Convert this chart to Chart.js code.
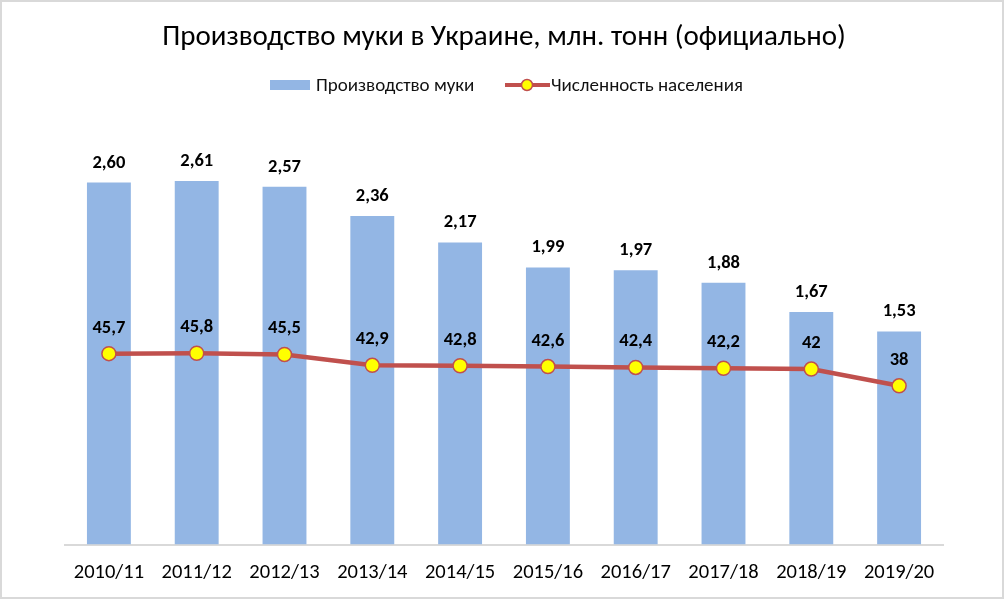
<!DOCTYPE html>
<html>
<head>
<meta charset="utf-8">
<script src="https://cdn.jsdelivr.net/npm/chart.js@4/dist/chart.umd.min.js"></script>
<style>
  html,body{margin:0;padding:0;background:#fff;}
  #wrap{position:relative;width:1004px;height:599px;box-sizing:border-box;border:2px solid #d9d9d9;}
</style>
</head>
<body>
<div id="wrap"><canvas id="c"></canvas></div>
<script>
// данные
const seasons = ['2010/11','2011/12','2012/13','2013/14','2014/15','2015/16','2016/17','2017/18','2018/19','2019/20'];
const flour = [2.60, 2.61, 2.57, 2.36, 2.17, 1.99, 1.97, 1.88, 1.67, 1.53];
const population = [45.7, 45.8, 45.5, 42.9, 42.8, 42.6, 42.4, 42.2, 42, 38];

const FONT = "Carlito, Calibri, Lato, 'Open Sans', sans-serif";
const BAR = '#93b6e4';
const RED = '#c0504d';

const fmt2 = v => v.toFixed(2).replace('.', ',');
const fmt1 = v => String(v).replace('.', ',');

// подписи значений
const valueLabels = {
  id: 'valueLabels',
  afterDatasetsDraw(chart) {
    const ctx = chart.ctx;
    ctx.save();
    ctx.font = 'bold 18.5px ' + FONT;
    ctx.fillStyle = '#000';
    ctx.textAlign = 'center';
    ctx.textBaseline = 'alphabetic';
    chart.data.datasets.forEach((ds, i) => {
      const meta = chart.getDatasetMeta(i);
      meta.data.forEach((el, j) => {
        if (ds.type === 'bar') ctx.fillText(fmt2(ds.data[j]), el.x, el.y - 15);
        else ctx.fillText(fmt1(ds.data[j]), el.x, el.y - 21);
      });
    });
    ctx.restore();
  }
};

// легенда
const legendPlugin = {
  id: 'customLegend',
  afterDraw(chart) {
    const ctx = chart.ctx;
    ctx.save();
    const y = 83;
    ctx.font = '19px ' + FONT;
    ctx.textBaseline = 'middle';
    ctx.fillStyle = BAR;
    ctx.fillRect(268, y - 5, 40, 10);
    ctx.fillStyle = '#111';
    ctx.fillText('Производство муки', 314, y + 1);
    ctx.strokeStyle = RED; ctx.lineWidth = 4;
    ctx.beginPath(); ctx.moveTo(503, y); ctx.lineTo(548, y); ctx.stroke();
    ctx.beginPath(); ctx.arc(525, y, 5.5, 0, Math.PI * 2);
    ctx.fillStyle = '#ffff00'; ctx.fill();
    ctx.lineWidth = 1.5; ctx.stroke();
    ctx.fillStyle = '#111';
    ctx.fillText('Численность населения', 549, y + 1);
    ctx.restore();
  }
};

new Chart(document.getElementById('c'), {
  data: {
    labels: seasons,
    datasets: [
      {
        type: 'line', label: 'Численность населения', data: population, yAxisID: 'y2', order: 0,
        borderColor: RED, borderWidth: 4.5, tension: 0,
        pointRadius: 7, pointBorderWidth: 1.5, pointBackgroundColor: '#ffff00', pointBorderColor: RED
      },
      {
        type: 'bar', label: 'Производство муки', data: flour, yAxisID: 'y', order: 1,
        backgroundColor: BAR, barPercentage: 0.5, categoryPercentage: 1
      }
    ]
  },
  options: {
    responsive: true, maintainAspectRatio: false, animation: false,
    layout: { padding: { left: 63, right: 59, top: 0, bottom: -4 } },
    plugins: {
      legend: { display: false },
      tooltip: { enabled: false },
      title: {
        display: true, text: 'Производство муки в Украине, млн. тонн (официально)',
        color: '#000', font: { family: FONT, size: 29, weight: 'normal' },
        padding: { top: 18, bottom: 72 }
      }
    },
    scales: {
      x: {
        grid: { display: false, drawTicks: false },
        border: { display: true, color: '#d9d9d9', width: 2 },
        ticks: { color: '#000', font: { family: FONT, size: 20.5, lineHeight: 0.9 }, padding: 19 }
      },
      y: { display: false, min: 0, max: 3 },
      y2: { display: false, min: 0, max: 100 }
    }
  },
  plugins: [valueLabels, legendPlugin]
});
</script>
</body>
</html>
